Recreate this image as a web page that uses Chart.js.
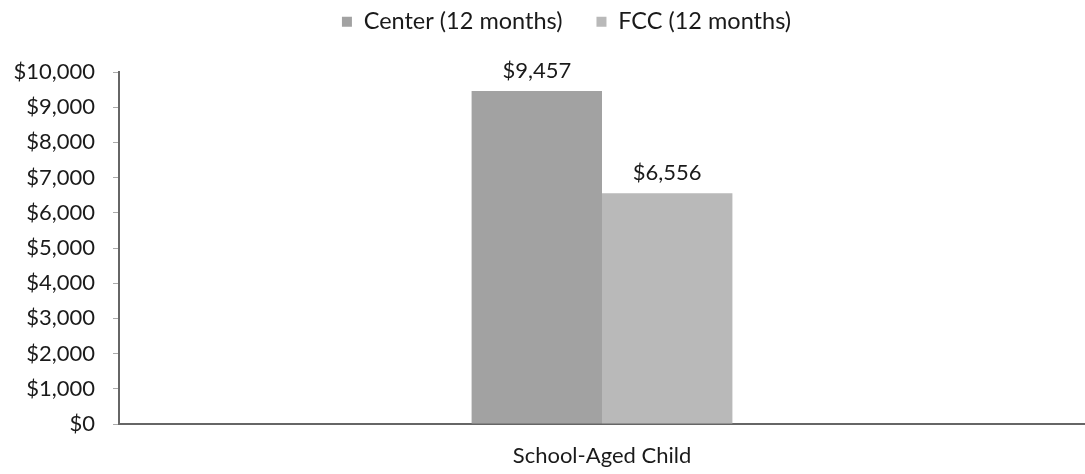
<!DOCTYPE html>
<html>
<head>
    <title>School-Aged Child Care Cost</title>
    <script src="https://cdn.jsdelivr.net/npm/chart.js"></script>
    <style>
        html, body { margin: 0; padding: 0; background: #fff; }
        #wrap { width: 1085px; height: 474px; }
    </style>
</head>
<body>
<div id="wrap"><canvas id="barraChart"></canvas></div>

<script>
    const categories = ['School-Aged Child'];
    const seriesNames = ['Center (12 months)', 'FCC (12 months)'];
    const centerValues = [9457];
    const fccValues = [6556];
    const yTicks = [0, 1000, 2000, 3000, 4000, 5000, 6000, 7000, 8000, 9000, 10000];

    const money = v => '$' + v.toLocaleString('en-US');
    const FONT = 'Lato, "Open Sans", sans-serif';
    const TEXT = '#1a1a1a';

    // etiquetas de valor acima das barras
    const valueLabels = {
        id: 'valueLabels',
        afterDatasetsDraw(chart) {
            const ctx = chart.ctx;
            ctx.save();
            ctx.font = '22px ' + FONT;
            ctx.fillStyle = TEXT;
            ctx.textAlign = 'center';
            ctx.textBaseline = 'bottom';
            chart.data.datasets.forEach((ds, i) => {
                chart.getDatasetMeta(i).data.forEach((bar, j) => {
                    ctx.fillText(money(ds.data[j]), bar.x, bar.y - 9);
                });
            });
            ctx.restore();
        }
    };

    // altura fixa da legenda e um leve deslocamento para a direita
    const legendPlace = {
        id: 'legendPlace',
        beforeInit(chart) {
            const fit = chart.legend.fit;
            chart.legend.fit = function () {
                fit.bind(chart.legend)();
                this.height = 96;
            };
        },
        afterLayout(chart) {
            chart.legend.left += 24;
            chart.legend.right += 24;
        }
    };

    new Chart(document.getElementById('barraChart'), {
        type: 'bar',
        data: {
            labels: categories,
            datasets: [
                { label: seriesNames[0], data: centerValues, backgroundColor: '#a2a2a2', borderWidth: 0 },
                { label: seriesNames[1], data: fccValues, backgroundColor: '#b9b9b9', borderWidth: 0 }
            ]
        },
        options: {
            responsive: true,
            maintainAspectRatio: false,
            animation: false,
            categoryPercentage: 0.27,
            barPercentage: 1.0,
            layout: { padding: { top: -24, right: 0, left: 0, bottom: 0 } },
            plugins: {
                legend: {
                    display: true,
                    position: 'top',
                    labels: {
                        font: { family: FONT, size: 23.5 },
                        color: TEXT,
                        boxWidth: 10,
                        boxHeight: 10,
                        padding: 34
                    }
                },
                tooltip: { enabled: false }
            },
            scales: {
                x: {
                    grid: { display: false },
                    border: { display: true, color: '#666', width: 2 },
                    ticks: { font: { family: FONT, size: 22 }, color: TEXT, padding: 11 },
                    afterFit(s) { s.height = 50; }
                },
                y: {
                    min: 0,
                    max: 10000,
                    afterBuildTicks(s) { s.ticks = yTicks.map(v => ({ value: v })); },
                    grid: { display: true, drawOnChartArea: false, drawTicks: true, tickLength: 6, color: '#aaa' },
                    border: { display: true, color: '#666', width: 2 },
                    ticks: {
                        font: { family: FONT, size: 22 },
                        color: TEXT,
                        padding: 18,
                        callback: v => money(v)
                    },
                    afterFit(s) { s.width = 119; }
                }
            }
        },
        plugins: [valueLabels, legendPlace]
    });
</script>
</body>
</html>
